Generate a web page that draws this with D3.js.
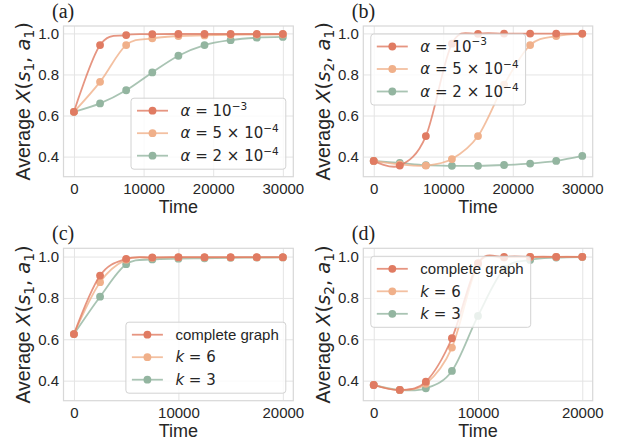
<!DOCTYPE html>
<html>
<head>
<meta charset="utf-8">
<script src="https://cdn.jsdelivr.net/npm/d3@7"></script>
<style>
  body { margin: 0; background: #fff; }
  text { white-space: pre; }
</style>
</head>
<body>
<svg id="chart"></svg>
<script>
// time steps where the markers sit
const timesLong = [0, 3750, 7500, 11250, 15000, 18750, 22500, 26250, 30000];
const timesShort = [0, 2500, 5000, 7500, 10000, 12500, 15000, 17500, 20000];

// (a) Average X(s1,a1), learning rates
const aFast = [0.618, 0.943, 0.992, 0.996, 0.997, 0.997, 0.997, 0.997, 0.997];
const aMid = [0.618, 0.764, 0.943, 0.976, 0.987, 0.990, 0.993, 0.994, 0.995];
const aSlow = [0.618, 0.659, 0.723, 0.810, 0.891, 0.943, 0.967, 0.979, 0.983];

// (b) Average X(s2,a1), learning rates
const bFast = [0.379, 0.356, 0.500, 0.950, 0.998, 0.999, 0.999, 0.999, 0.999];
const bMid = [0.379, 0.362, 0.356, 0.388, 0.500, 0.750, 0.943, 0.987, 0.998];
const bSlow = [0.379, 0.369, 0.358, 0.355, 0.355, 0.359, 0.366, 0.379, 0.403];

// (c) Average X(s1,a1), graph types
const cComplete = [0.625, 0.908, 0.989, 0.996, 0.997, 0.997, 0.997, 0.997, 0.997];
const cK6 = [0.625, 0.876, 0.985, 0.994, 0.996, 0.996, 0.996, 0.996, 0.996];
const cK3 = [0.625, 0.806, 0.963, 0.986, 0.990, 0.992, 0.994, 0.995, 0.996];

// (d) Average X(s2,a1), graph types
const dComplete = [0.379, 0.355, 0.395, 0.605, 0.968, 0.998, 0.999, 0.999, 0.999];
const dK6 = [0.379, 0.355, 0.385, 0.560, 0.962, 0.995, 0.998, 0.999, 0.999];
const dK3 = [0.379, 0.355, 0.363, 0.447, 0.713, 0.940, 0.984, 0.995, 0.998];

const alphaNames = ["$α = 10^{−3}$", "$α = 5 × 10^{−4}$", "$α = 2 × 10^{−4}$"];
const graphNames = ["complete graph", "$k = 6$", "$k = 3$"];
const panelLabels = ["(a)", "(b)", "(c)", "(d)"];

const xTicksLong = [0, 10000, 20000, 30000];
const xTicksShort = [0, 10000, 20000];
const yTicks = [0.4, 0.6, 0.8, 1.0];

const colors = ["#e07b62", "#f0b08a", "#93b5a0"];
const sans = "Liberation Sans, Arial, sans-serif";

const svg = d3.select("#chart").attr("width", 621).attr("height", 445);

const colLeft = [63.5, 363.3], colRight = [293.3, 592.7];
const rowTop = [26, 248.3], rowBottom = [176.7, 400.7];
const yDomains = [[0.302, 1.036], [0.303, 1.04]];

// little mathtext-ish parser: $..$ is math, ^{} / _{} are super / subscripts
const parseMath = str => {
  let parts = [];
  str.split("$").forEach((seg, i) => {
    if (i % 2 === 0) {
      if (seg) parts.push({ t: seg, math: false });
      return;
    }
    let j = 0;
    while (j < seg.length) {
      let c = seg[j];
      if ((c === "^" || c === "_") && seg[j + 1] === "{") {
        let end = seg.indexOf("}", j);
        parts.push({ t: seg.slice(j + 2, end), math: true, shift: c === "^" ? "sup" : "sub" });
        j = end + 1;
      } else {
        parts.push({ t: c, math: true, it: /[A-Za-zα]/.test(c) });
        j++;
      }
    }
  });
  return parts;
};

const richText = (sel, str, size) => {
  let shift = 0;
  parseMath(str).forEach(p => {
    let target = p.shift === "sup" ? -0.42 * size : p.shift === "sub" ? 0.22 * size : 0;
    let ts = sel.append("tspan")
      .text(p.t)
      .attr("font-family", p.math ? "DejaVu Sans" : sans)
      .attr("font-size", p.shift ? size * 0.7 : size)
      .attr("dy", target - shift);
    if (p.it) ts.attr("font-style", "italic");
    shift = target;
  });
};

const panels = [
  { times: timesLong, series: [aFast, aMid, aSlow], names: alphaNames, xTicks: xTicksLong, xDomain: [-1500, 31500], row: 0, col: 0, state: "1", legend: "lr" },
  { times: timesLong, series: [bFast, bMid, bSlow], names: alphaNames, xTicks: xTicksLong, xDomain: [-1500, 31500], row: 0, col: 1, state: "2", legend: "ul" },
  { times: timesShort, series: [cComplete, cK6, cK3], names: graphNames, xTicks: xTicksShort, xDomain: [-1000, 21000], row: 1, col: 0, state: "1", legend: "lr" },
  { times: timesShort, series: [dComplete, dK6, dK3], names: graphNames, xTicks: xTicksShort, xDomain: [-1000, 21000], row: 1, col: 1, state: "2", legend: "ul" }
];

const drawPanel = (p, idx) => {
  let x0 = colLeft[p.col], x1 = colRight[p.col];
  let y0 = rowTop[p.row], y1 = rowBottom[p.row];

  let x = d3.scaleLinear().domain(p.xDomain).range([x0, x1]);
  let y = d3.scaleLinear().domain(yDomains[p.row]).range([y1, y0]);

  let g = svg.append("g");

  // axes with grid lines as long ticks
  let gx = g.append("g")
    .attr("transform", `translate(0,${y1})`)
    .call(d3.axisBottom(x).tickValues(p.xTicks).tickSize(-(y1 - y0)).tickPadding(6.4).tickFormat(d3.format("d")));
  let gy = g.append("g")
    .attr("transform", `translate(${x0},0)`)
    .call(d3.axisLeft(y).tickValues(yTicks).tickSize(-(x1 - x0)).tickPadding(4.5).tickFormat(d3.format(".1f")));

  [gx, gy].forEach(a => {
    a.select(".domain").remove();
    a.selectAll("line").attr("stroke", "#e4e4e4").attr("stroke-width", 1);
    a.selectAll("text").attr("font-family", sans).attr("font-size", 15).attr("fill", "#262626");
  });

  g.append("rect")
    .attr("x", x0).attr("y", y0)
    .attr("width", x1 - x0).attr("height", y1 - y0)
    .attr("fill", "none")
    .attr("stroke", "#d8d8d8")
    .attr("stroke-width", 1.2);

  // labels
  g.append("text")
    .attr("x", (x0 + x1) / 2).attr("y", y1 + 36.5)
    .attr("text-anchor", "middle")
    .attr("font-family", sans).attr("font-size", 18).attr("fill", "#262626")
    .text("Time");

  let yl = g.append("text")
    .attr("transform", `translate(${x0 - 33.5},${(y0 + y1) / 2}) rotate(-90)`)
    .attr("text-anchor", "middle")
    .attr("fill", "#262626");
  richText(yl, `Average $X(s_{${p.state}}, a_{1})$`, 19.5);

  g.append("text")
    .attr("x", x0 - 11.5).attr("y", y0 - 8)
    .attr("font-family", "Liberation Serif, Times New Roman, serif")
    .attr("font-size", 20).attr("fill", "#222")
    .text(panelLabels[idx]);

  // series, drawn so the first one ends on top
  let line = d3.line()
    .x(d => x(d[0]))
    .y(d => y(d[1]))
    .curve(d3.curveCardinal.tension(0));

  for (let s = p.series.length - 1; s >= 0; s--) {
    let pts = p.times.map((t, i) => [t, p.series[s][i]]);
    g.append("path")
      .datum(pts)
      .attr("fill", "none")
      .attr("stroke", colors[s])
      .attr("stroke-opacity", 0.8)
      .attr("stroke-width", 1.8)
      .attr("d", line);
    g.selectAll(null)
      .data(pts)
      .join("circle")
      .attr("cx", d => x(d[0]))
      .attr("cy", d => y(d[1]))
      .attr("r", 3.9)
      .attr("fill", colors[s]);
  }

  // legend
  let lg = g.append("g");
  let box = lg.append("rect")
    .attr("fill", "#fff").attr("fill-opacity", 0.8)
    .attr("stroke", "#d2d2d2").attr("stroke-width", 1)
    .attr("rx", 3);
  let maxW = 0;
  p.names.forEach((name, i) => {
    let cy = 12.5 + i * 22.5;
    lg.append("line")
      .attr("x1", 6).attr("x2", 37)
      .attr("y1", cy).attr("y2", cy)
      .attr("stroke", colors[i]).attr("stroke-opacity", 0.8).attr("stroke-width", 1.8);
    lg.append("circle")
      .attr("cx", 21.5).attr("cy", cy).attr("r", 3.9)
      .attr("fill", colors[i]);
    let t = lg.append("text")
      .attr("x", 49.5).attr("y", cy + 5.3)
      .attr("fill", "#262626");
    richText(t, name, 15);
    maxW = Math.max(maxW, t.node().getComputedTextLength());
  });
  let bw = 49.5 + maxW + 7, bh = 71;
  box.attr("width", bw).attr("height", bh);
  let lx = p.legend === "lr" ? x1 - 7.5 - bw : x0 + 7.5;
  let ly = p.legend === "lr" ? y1 - 7.5 - bh : y0 + 8;
  lg.attr("transform", `translate(${lx},${ly})`);
};

panels.forEach(drawPanel);
</script>
</body>
</html>
